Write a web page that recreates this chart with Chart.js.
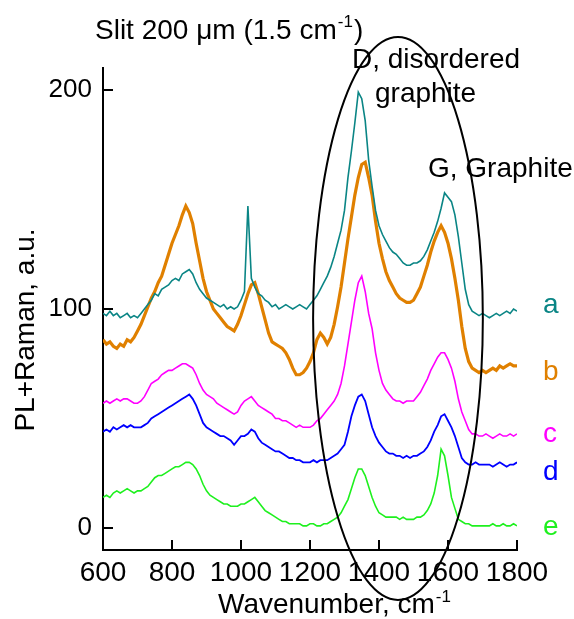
<!DOCTYPE html>
<html><head><meta charset="utf-8">
<script src="https://cdn.jsdelivr.net/npm/chart.js@4"></script>
<style>html,body{margin:0;padding:0;background:#fff;overflow:hidden}</style>
</head><body>
<canvas id="c" width="574" height="619" style="width:574px;height:619px;display:block"></canvas>
<script>
// ---- data ----
const wavenumbers = [600,610,620,630,640,650,660,670,680,690,700,
710,720,730,740,750,760,770,780,790,800,
810,820,830,840,850,860,870,880,890,900,
910,920,930,940,950,960,970,980,990,1000,
1010,1020,1030,1040,1050,1060,1070,1080,1090,1100,
1110,1120,1130,1140,1150,1160,1170,1180,1190,1200,
1210,1220,1230,1240,1250,1260,1270,1280,1290,1300,
1310,1320,1330,1340,1350,1360,1370,1380,1390,1400,
1410,1420,1430,1440,1450,1460,1470,1480,1490,1500,
1510,1520,1530,1540,1550,1560,1570,1580,1590,1600,
1610,1620,1630,1640,1650,1660,1670,1680,1690,1700,
1710,1720,1730,1740,1750,1760,1770,1780,1790,1800];

const seriesA = [98,97,99,97,98,96,97,98,96,97,96,
98,100,102,104,107,106,109,110,111,113,
114,113,116,117,118,116,112,109,107,105,
104,103,102,101,102,100,101,100,101,104,
108,147,114,110,107,106,104,103,101,102,
100,101,102,101,100,101,102,101,100,102,
104,106,109,112,115,119,124,130,136,145,
160,172,185,199,196,186,168,156,145,138,
134,131,128,126,125,123,121,120,120,121,
121,122,124,127,131,135,140,146,153,151,
149,143,133,121,109,102,99,98,97,98,
97,96,97,98,97,98,99,98,100,99];

const seriesB = [86,84,85,83,82,84,83,86,85,87,90,
93,97,101,105,108,112,115,120,125,130,
134,138,143,147,144,139,130,122,114,108,
104,100,98,96,94,92,91,90,93,97,
102,107,111,112,107,101,95,89,85,84,
83,82,80,77,73,70,70,71,73,76,
80,86,89,87,84,87,93,101,110,121,
132,142,152,160,166,167,160,152,140,130,
123,117,113,110,107,105,104,103,103,104,
107,110,115,120,126,131,135,138,135,130,
123,114,104,92,82,76,73,72,71,72,
71,72,73,72,74,73,74,75,74,74];

const seriesC = [57,58,57,58,59,58,59,59,58,57,57,
58,60,63,66,67,68,70,71,72,72,
73,74,75,75,74,73,70,66,63,61,
60,59,57,56,55,54,53,52,53,56,
58,59,60,58,56,55,54,53,52,50,
50,49,49,48,47,46,47,46,46,46,
47,49,50,52,54,56,58,61,66,74,
84,94,104,112,115,108,98,91,80,72,
66,63,61,59,58,58,57,58,58,58,
60,62,65,68,72,75,78,80,80,77,
73,67,59,53,49,45,43,43,42,42,
43,42,41,42,43,42,42,43,42,43];

const seriesD = [44,45,44,46,45,46,47,46,47,46,46,
46,47,48,50,51,52,53,54,55,56,
57,58,59,60,61,59,56,52,48,46,
45,44,43,42,42,41,40,38,40,42,
42,43,45,44,41,39,38,37,36,35,
35,34,33,32,32,31,31,30,30,30,
31,30,31,31,31,32,33,34,36,38,
44,51,56,60,61,58,52,46,42,39,
37,35,34,34,33,33,32,33,32,33,
33,34,35,37,40,44,47,51,52,49,
46,42,37,32,30,29,29,30,29,29,
29,29,28,29,30,29,28,29,29,30];

const seriesE = [14,15,14,16,17,16,17,18,17,16,17,
17,18,19,21,23,24,24,25,26,27,
28,28,29,30,30,29,27,24,20,17,
15,14,13,12,11,11,10,10,10,11,
11,12,13,14,12,10,8,7,6,5,
4,3,3,2,2,2,2,1,1,2,
2,1,1,2,2,3,4,5,7,10,
13,18,23,27,27,24,19,14,10,7,
6,5,5,5,5,4,5,4,4,4,
5,5,6,8,11,16,24,36,33,24,
14,9,4,3,2,2,1,1,1,1,
1,1,2,1,1,2,1,1,2,1];

const seriesNames = ['a','b','c','d','e'];
const xTicks = [600,800,1000,1200,1400,1600,1800];
const yTicks = [0,100,200];

// ---- styling ----
const FONT = '"Liberation Sans", Arial, sans-serif';
const colors = ['#0a8585','#e08000','#ff00ff','#0000ff','#1ef01e'];
const widths = [1.6,3.2,1.6,1.8,1.6];
const allSeries = [seriesA,seriesB,seriesC,seriesD,seriesE];

const datasets = allSeries.map((s,i)=>({
  label: seriesNames[i],
  data: wavenumbers.map((w,k)=>({x:w,y:s[k]})),
  borderColor: colors[i],
  borderWidth: widths[i],
  pointRadius: 0,
  fill: false,
  tension: 0
}));

const deco = {
  id:'deco',
  afterDatasetsDraw(chart){
    const ctx = chart.ctx, xs = chart.scales.x, ys = chart.scales.y;
    // ellipse around D and G bands (data coordinates)
    const cx = xs.getPixelForValue(1455), cy = ys.getPixelForValue(95.7);
    const rx = Math.abs(xs.getPixelForValue(1455+246)-cx);
    const ry = Math.abs(ys.getPixelForValue(95.7+128.5)-cy);
    ctx.save();
    ctx.beginPath();
    ctx.ellipse(cx,cy,rx,ry,0,0,Math.PI*2);
    ctx.strokeStyle='#000'; ctx.lineWidth=2; ctx.stroke();
    ctx.restore();
  },
  afterDraw(chart){
    const ctx = chart.ctx, xs = chart.scales.x, ys = chart.scales.y, a = chart.chartArea;
    ctx.save();
    // inward tick marks
    ctx.strokeStyle='#000'; ctx.lineWidth=2;
    xTicks.forEach(v=>{const p=Math.round(xs.getPixelForValue(v)); ctx.beginPath(); ctx.moveTo(p,a.bottom); ctx.lineTo(p,a.bottom-10); ctx.stroke();});
    yTicks.forEach(v=>{const p=Math.round(ys.getPixelForValue(v)); ctx.beginPath(); ctx.moveTo(a.left,p); ctx.lineTo(a.left+10,p); ctx.stroke();});
    ctx.fillStyle='#000'; ctx.textBaseline='alphabetic'; ctx.textAlign='left';
    // title
    ctx.font='28px '+FONT;
    let t='Slit 200 \u03BCm (1.5 cm'; let x=95; ctx.fillText(t,x,39); x+=ctx.measureText(t).width;
    ctx.font='17px '+FONT; ctx.fillText('-1',x+1,27); x+=ctx.measureText('-1').width+2;
    ctx.font='28px '+FONT; ctx.fillText(')',x,39);
    // x title
    ctx.font='28px '+FONT;
    t='Wavenumber, cm'; x=218; ctx.fillText(t,x,613); x+=ctx.measureText(t).width;
    ctx.font='17px '+FONT; ctx.fillText('-1',x+1,602);
    // y title
    ctx.save(); ctx.translate(34,330); ctx.rotate(-Math.PI/2);
    ctx.font='28px '+FONT; ctx.textAlign='center'; ctx.fillText('PL+Raman, a.u.',0,0);
    ctx.restore();
    // annotations
    ctx.font='28px '+FONT;
    ctx.fillText('D, disordered',352,68);
    ctx.fillText('graphite',375,102);
    ctx.fillText('G, Graphite',428,177);
    // series labels
    const ly=[313,380,442,480,535];
    seriesNames.forEach((n,i)=>{ctx.fillStyle=colors[i]; ctx.fillText(n,543,ly[i]);});
    ctx.restore();
  }
};

new Chart(document.getElementById('c'),{
  type:'line',
  data:{datasets},
  options:{
    responsive:false, animation:false, devicePixelRatio:1,
    layout:{padding:{left:0,right:57,top:68,bottom:0}},
    plugins:{legend:{display:false},tooltip:{enabled:false},title:{display:false}},
    scales:{
      x:{type:'linear',min:600,max:1800,
        afterBuildTicks:s=>{s.ticks=xTicks.map(v=>({value:v}));},
        afterFit:s=>{s.height=69;},
        grid:{display:true,drawOnChartArea:false,drawTicks:false},
        border:{display:true,color:'#000',width:2},
        ticks:{color:'#000',font:{family:FONT,size:28},padding:6,maxRotation:0,autoSkip:false,
          callback:v=>String(v)}},
      y:{type:'linear',min:-10,max:210,
        afterBuildTicks:s=>{s.ticks=yTicks.map(v=>({value:v}));},
        afterFit:s=>{s.width=103;},
        grid:{display:true,drawOnChartArea:false,drawTicks:false},
        border:{display:true,color:'#000',width:2},
        ticks:{color:'#000',font:{family:FONT,size:26},padding:11,callback:v=>String(v)}}
    }
  },
  plugins:[deco]
});
</script>
</body></html>
